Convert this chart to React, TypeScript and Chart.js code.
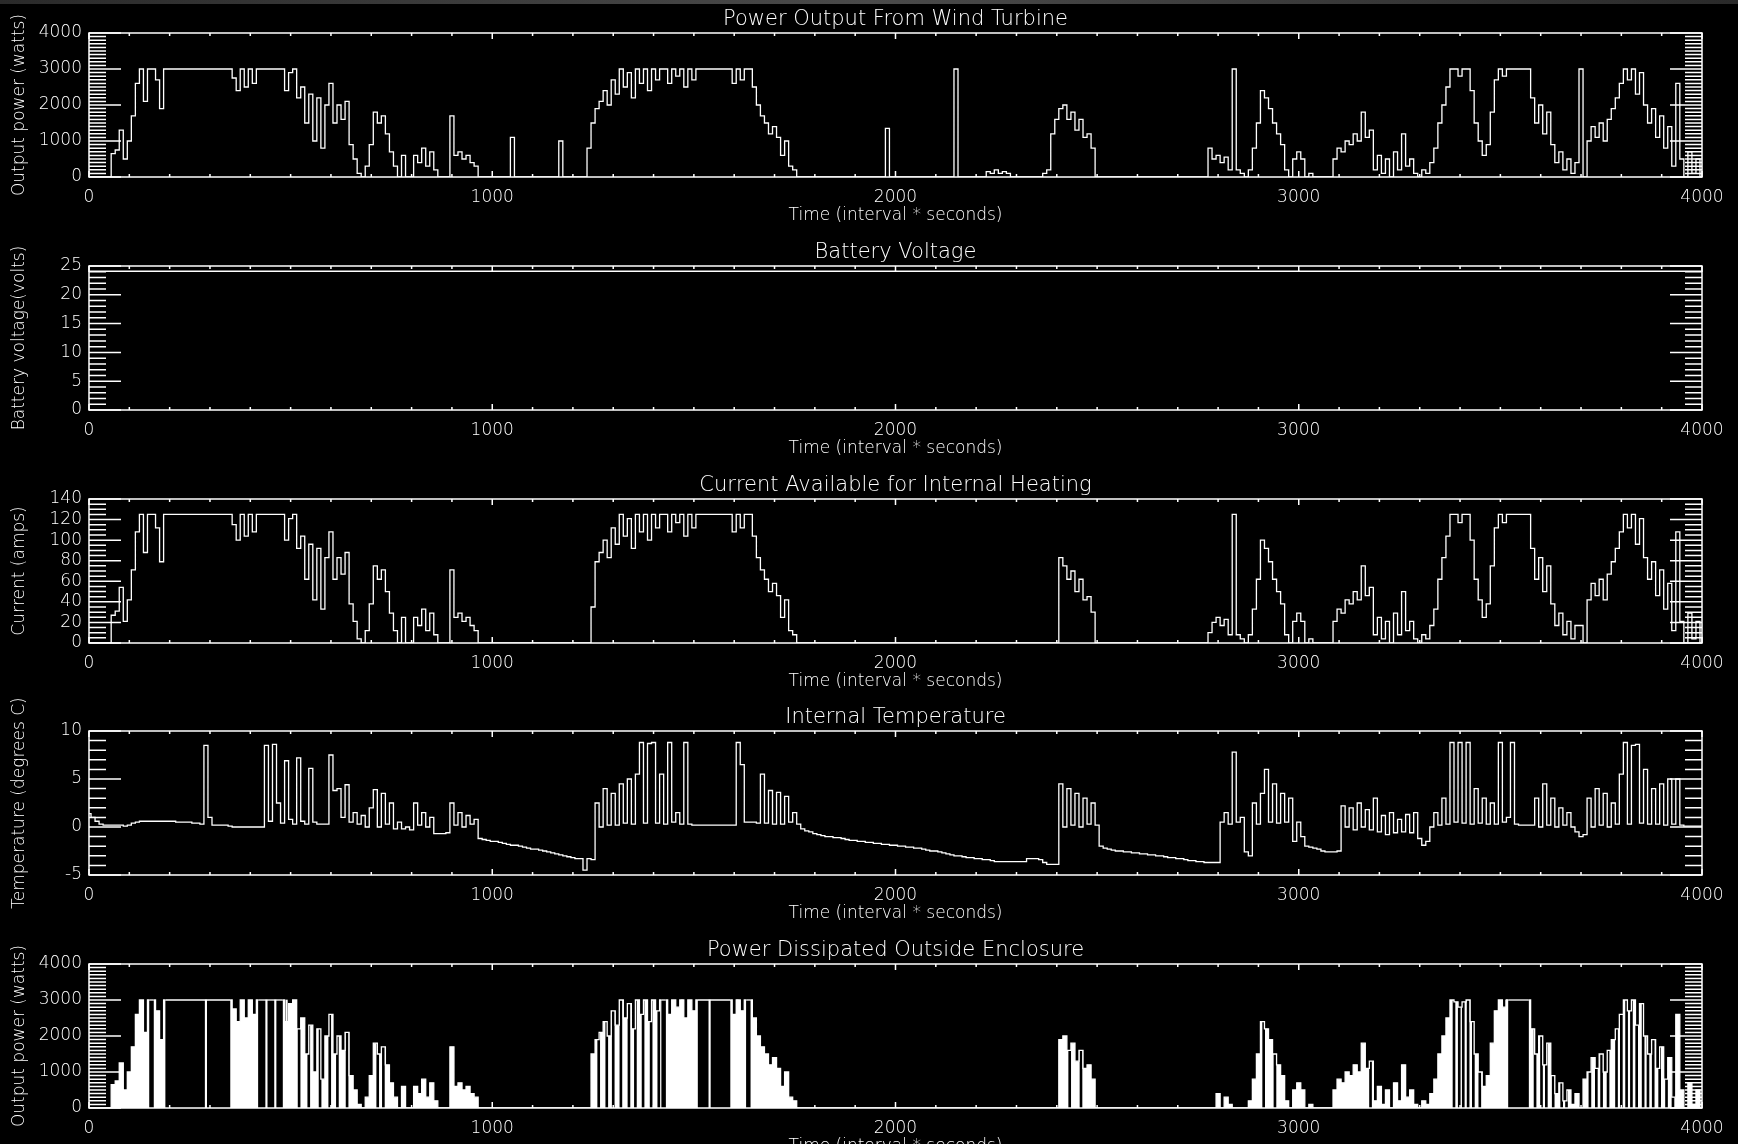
import React, { useEffect, useRef } from 'react';
import { Chart, registerables } from 'chart.js';

Chart.register(...registerables);

const FG = '#ffffff';
const FONT = '"DejaVu Sans", "Liberation Sans", sans-serif';
Chart.defaults.font.family = FONT;

// sampling grid (seconds), one reading every 10 s
const TIME_STEP = 10;
const TIME: number[] = Array.from({ length: 401 }, (_, i) => i * TIME_STEP);

// Panel 1: power output from wind turbine (watts)
const POWER_OUT: number[] = [
  0, 0, 0, 0, 0, 0, 650, 750, 1300, 500,
  1000, 1700, 2600, 3000, 2100, 3000, 3000, 2700, 1900, 3000,
  3000, 3000, 3000, 3000, 3000, 3000, 3000, 3000, 3000, 3000,
  3000, 3000, 3000, 3000, 3000, 3000, 2750, 2400, 3000, 2500,
  3000, 2600, 3000, 3000, 3000, 3000, 3000, 3000, 3000, 2400,
  2900, 3000, 2200, 2500, 1500, 2300, 1000, 2200, 800, 2000,
  2600, 1500, 2000, 1600, 2100, 900, 500, 100, 0, 300,
  900, 1800, 1500, 1700, 1200, 700, 300, 0, 600, 0,
  0, 600, 400, 800, 300, 700, 200, 0, 0, 0,
  1700, 600, 700, 500, 600, 400, 300, 0, 0, 0,
  0, 0, 0, 0, 0, 1100, 0, 0, 0, 0,
  0, 0, 0, 0, 0, 0, 0, 1000, 0, 0,
  0, 0, 0, 0, 800, 1500, 1900, 2100, 2400, 2000,
  2700, 2300, 3000, 2500, 2900, 2200, 3000, 2600, 3000, 2400,
  3000, 2700, 3000, 3000, 2600, 3000, 2800, 3000, 2500, 3000,
  2700, 3000, 3000, 3000, 3000, 3000, 3000, 3000, 3000, 3000,
  2600, 3000, 2700, 3000, 3000, 2500, 2000, 1700, 1500, 1200,
  1400, 1100, 600, 1000, 300, 200, 0, 0, 0, 0,
  0, 0, 0, 0, 0, 0, 0, 0, 0, 0,
  0, 0, 0, 0, 0, 0, 0, 0, 1350, 0,
  0, 0, 0, 0, 0, 0, 0, 0, 0, 0,
  0, 0, 0, 0, 0, 3000, 0, 0, 0, 0,
  0, 0, 0, 150, 100, 200, 100, 150, 100, 0,
  0, 0, 0, 0, 0, 0, 0, 100, 200, 1200,
  1600, 1900, 2000, 1600, 1800, 1300, 1600, 1100, 1200, 800,
  0, 0, 0, 0, 0, 0, 0, 0, 0, 0,
  0, 0, 0, 0, 0, 0, 0, 0, 0, 0,
  0, 0, 0, 0, 0, 0, 0, 0, 800, 500,
  600, 400, 550, 200, 3000, 200, 100, 0, 200, 800,
  1500, 2400, 2200, 1900, 1500, 1200, 900, 200, 0, 500,
  700, 500, 0, 100, 0, 0, 0, 0, 0, 500,
  800, 700, 1000, 900, 1200, 1000, 1800, 1100, 1300, 200,
  600, 100, 500, 0, 700, 200, 1200, 300, 500, 100,
  0, 200, 100, 400, 800, 1500, 2000, 2500, 3000, 3000,
  2800, 3000, 3000, 2400, 1500, 1000, 600, 900, 1800, 2700,
  3000, 2800, 3000, 3000, 3000, 3000, 3000, 3000, 2200, 1500,
  2000, 1200, 1800, 900, 400, 700, 200, 500, 100, 400,
  3000, 0, 1000, 1400, 1100, 1500, 1000, 1600, 1900, 2200,
  2600, 3000, 2700, 3000, 2300, 2900, 2000, 1500, 1900, 1100,
  1700, 800, 1400, 300, 2600, 500, 0, 700, 100, 500,
  0,
];

// Panel 2: battery voltage (volts)
const BATTERY_TIME: number[] = [0, 1000, 2000, 3000, 4000];
const BATTERY_VOLT: number[] = [24.1, 24.1, 24.1, 24.1, 24.1];

// Panel 3: current available for internal heating (amps)
const CURRENT: number[] = [
  0, 0, 0, 0, 0, 0, 27, 31, 54, 21,
  42, 71, 108, 125, 88, 125, 125, 112, 79, 125,
  125, 125, 125, 125, 125, 125, 125, 125, 125, 125,
  125, 125, 125, 125, 125, 125, 115, 100, 125, 104,
  125, 108, 125, 125, 125, 125, 125, 125, 125, 100,
  121, 125, 92, 104, 62, 96, 42, 92, 33, 83,
  108, 62, 83, 67, 88, 38, 21, 4, 0, 12,
  38, 75, 62, 71, 50, 29, 12, 0, 25, 0,
  0, 25, 17, 33, 12, 29, 8, 0, 0, 0,
  71, 25, 29, 21, 25, 17, 12, 0, 0, 0,
  0, 0, 0, 0, 0, 0, 0, 0, 0, 0,
  0, 0, 0, 0, 0, 0, 0, 0, 0, 0,
  0, 0, 0, 0, 0, 35, 79, 88, 100, 83,
  112, 96, 125, 104, 121, 92, 125, 108, 125, 100,
  125, 112, 125, 125, 108, 125, 117, 125, 104, 125,
  112, 125, 125, 125, 125, 125, 125, 125, 125, 125,
  108, 125, 112, 125, 125, 104, 83, 71, 62, 50,
  58, 46, 25, 42, 12, 8, 0, 0, 0, 0,
  0, 0, 0, 0, 0, 0, 0, 0, 0, 0,
  0, 0, 0, 0, 0, 0, 0, 0, 0, 0,
  0, 0, 0, 0, 0, 0, 0, 0, 0, 0,
  0, 0, 0, 0, 0, 0, 0, 0, 0, 0,
  0, 0, 0, 0, 0, 0, 0, 0, 0, 0,
  0, 0, 0, 0, 0, 0, 0, 0, 0, 0,
  0, 83, 75, 62, 70, 50, 62, 42, 45, 30,
  0, 0, 0, 0, 0, 0, 0, 0, 0, 0,
  0, 0, 0, 0, 0, 0, 0, 0, 0, 0,
  0, 0, 0, 0, 0, 0, 0, 0, 10, 20,
  25, 17, 23, 8, 125, 8, 4, 0, 8, 33,
  62, 100, 92, 79, 62, 50, 38, 8, 0, 21,
  29, 21, 0, 4, 0, 0, 0, 0, 0, 21,
  33, 29, 42, 38, 50, 42, 75, 46, 54, 8,
  25, 4, 21, 0, 29, 8, 50, 12, 21, 4,
  0, 8, 4, 17, 33, 62, 83, 104, 125, 125,
  117, 125, 125, 100, 62, 42, 25, 38, 75, 112,
  125, 117, 125, 125, 125, 125, 125, 125, 92, 62,
  83, 50, 75, 38, 17, 29, 8, 21, 4, 17,
  17, 0, 42, 58, 46, 62, 42, 67, 79, 92,
  108, 125, 112, 125, 96, 121, 83, 62, 79, 46,
  71, 33, 58, 12, 108, 21, 0, 29, 4, 21,
  0,
];

// Panel 4: internal temperature (degrees C)
const TEMPERATURE: number[] = [
  1.4, 1.0, 0.6, 0.3, 0.2, 0.2, 0.2, 0.2, 0.2, 0.1,
  0.2, 0.4, 0.5, 0.6, 0.6, 0.6, 0.6, 0.6, 0.6, 0.6,
  0.6, 0.6, 0.5, 0.5, 0.5, 0.5, 0.4, 0.4, 0.3, 8.5,
  1.0, 0.2, 0.2, 0.2, 0.2, 0.1, 0.0, 0.0, 0.0, 0.0,
  0.0, 0.0, 0.0, 0.0, 8.5, 0.6, 8.6, 2.5, 0.4, 6.9,
  0.8, 0.3, 7.2, 0.6, 0.3, 6.1, 0.5, 0.3, 0.3, 0.3,
  7.5, 3.8, 4.0, 1.0, 4.4, 0.5, 1.5, 0.3, 1.2, 0.0,
  2.0, 3.9, 0.0, 3.5, 0.3, 2.5, -0.2, 0.5, -0.2, 0.0,
  -0.3, 2.5, 0.2, 1.5, 0.0, 1.0, -0.7, -0.7, -0.7, -0.6,
  2.5, 0.2, 1.5, 0.0, 1.2, 0.3, 0.8, -1.2, -1.3, -1.4,
  -1.5, -1.5, -1.6, -1.7, -1.8, -1.9, -1.9, -2.0, -2.1, -2.2,
  -2.3, -2.3, -2.4, -2.5, -2.6, -2.7, -2.8, -2.9, -3.0, -3.1,
  -3.2, -3.3, -3.3, -4.5, -3.3, -3.4, 2.5, 0.0, 4.0, 0.2,
  3.5, 0.2, 4.5, 0.4, 5.0, 0.3, 5.5, 8.8, 0.4, 8.7,
  8.8, 0.4, 5.5, 0.3, 8.8, 0.5, 1.5, 0.3, 8.8, 0.3,
  0.2, 0.2, 0.2, 0.2, 0.2, 0.2, 0.2, 0.2, 0.2, 0.2,
  0.2, 8.8, 6.5, 0.5, 0.5, 0.5, 0.4, 5.5, 0.4, 3.8,
  0.3, 3.6, 0.3, 3.2, 0.5, 1.5, 0.3, -0.2, -0.4, -0.5,
  -0.7, -0.8, -0.9, -1.0, -1.0, -1.1, -1.1, -1.2, -1.3, -1.4,
  -1.4, -1.5, -1.5, -1.6, -1.6, -1.7, -1.7, -1.8, -1.8, -1.9,
  -1.9, -2.0, -2.0, -2.1, -2.1, -2.2, -2.2, -2.3, -2.4, -2.5,
  -2.5, -2.6, -2.7, -2.8, -2.9, -3.0, -3.0, -3.1, -3.2, -3.2,
  -3.3, -3.3, -3.4, -3.4, -3.5, -3.6, -3.6, -3.6, -3.6, -3.6,
  -3.6, -3.6, -3.6, -3.3, -3.3, -3.3, -3.4, -3.7, -3.9, -3.9,
  -3.9, 4.5, 0.0, 4.0, 0.2, 3.5, 0.0, 3.0, 0.3, 2.5,
  0.2, -2.0, -2.2, -2.3, -2.4, -2.5, -2.5, -2.6, -2.6, -2.7,
  -2.7, -2.8, -2.8, -2.9, -2.9, -3.0, -3.0, -3.1, -3.2, -3.2,
  -3.3, -3.3, -3.4, -3.5, -3.5, -3.6, -3.6, -3.7, -3.7, -3.7,
  -3.7, 0.5, 1.5, 0.3, 7.8, 0.5, 1.0, -2.6, -3.0, 2.5,
  0.3, 3.5, 6.0, 0.5, 4.5, 0.4, 3.5, 0.5, 3.0, -1.5,
  0.5, -1.0, -2.0, -2.1, -2.2, -2.3, -2.5, -2.6, -2.6, -2.6,
  -2.5, 2.2, 0.0, 2.0, -0.3, 2.5, 0.0, 1.8, -0.3, 3.0,
  -0.5, 1.2, -0.8, 1.5, -0.6, 0.8, -0.5, 1.3, -0.6, 1.5,
  -1.2, -1.9, -1.5, 0.0, 1.5, 0.2, 3.0, 0.3, 8.8, 0.5,
  8.8, 0.4, 8.8, 0.3, 4.0, 0.4, 3.0, 0.3, 2.5, 0.3,
  8.8, 0.5, 1.0, 8.8, 0.3, 0.2, 0.2, 0.2, 0.2, 3.0,
  0.0, 4.5, 0.2, 3.0, 0.0, 2.0, 0.2, 1.5, 0.0, -0.5,
  -1.0, -0.8, 3.0, 0.0, 4.0, 0.2, 3.5, 0.0, 2.5, 0.3,
  5.5, 8.8, 0.3, 8.5, 8.6, 0.4, 6.0, 0.3, 4.0, 0.3,
  4.5, 0.2, 5.0, 0.3, 5.0, 0.2, 0.1, 0.1, 0.1, 0.1,
  0.1,
];

// Panel 5: power dissipated outside enclosure (watts)
const POWER_DISS: number[] = [
  0, 0, 0, 0, 0, 0, 650, 750, 1250, 500,
  1000, 1700, 2600, 3000, 2100, 3000, 3000, 2700, 1900, 3000,
  3000, 3000, 3000, 3000, 3000, 3000, 3000, 3000, 3000, 3000,
  3000, 3000, 3000, 3000, 3000, 3000, 2750, 2400, 3000, 2500,
  3000, 2600, 3000, 3000, 3000, 3000, 3000, 3000, 3000, 2400,
  2900, 3000, 2200, 2500, 1500, 2300, 1000, 2200, 800, 2000,
  2600, 1500, 2000, 1600, 2100, 900, 500, 100, 0, 300,
  900, 1800, 1500, 1700, 1200, 700, 300, 0, 600, 0,
  0, 600, 400, 800, 300, 700, 200, 0, 0, 0,
  1700, 600, 700, 500, 600, 400, 300, 0, 0, 0,
  0, 0, 0, 0, 0, 0, 0, 0, 0, 0,
  0, 0, 0, 0, 0, 0, 0, 0, 0, 0,
  0, 0, 0, 0, 0, 1500, 1900, 2100, 2400, 2000,
  2700, 2300, 3000, 2500, 2900, 2200, 3000, 2600, 3000, 2400,
  3000, 2700, 3000, 3000, 2600, 3000, 2800, 3000, 2500, 3000,
  2700, 3000, 3000, 3000, 3000, 3000, 3000, 3000, 3000, 3000,
  2600, 3000, 2700, 3000, 3000, 2500, 2000, 1700, 1500, 1200,
  1400, 1100, 600, 1000, 300, 200, 0, 0, 0, 0,
  0, 0, 0, 0, 0, 0, 0, 0, 0, 0,
  0, 0, 0, 0, 0, 0, 0, 0, 0, 0,
  0, 0, 0, 0, 0, 0, 0, 0, 0, 0,
  0, 0, 0, 0, 0, 0, 0, 0, 0, 0,
  0, 0, 0, 0, 0, 0, 0, 0, 0, 0,
  0, 0, 0, 0, 0, 0, 0, 0, 0, 0,
  0, 1900, 2000, 1600, 1800, 1300, 1600, 1100, 1200, 800,
  0, 0, 0, 0, 0, 0, 0, 0, 0, 0,
  0, 0, 0, 0, 0, 0, 0, 0, 0, 0,
  0, 0, 0, 0, 0, 0, 0, 0, 0, 0,
  400, 0, 300, 100, 0, 0, 0, 0, 200, 800,
  1500, 2400, 2200, 1900, 1500, 1200, 900, 200, 0, 500,
  700, 500, 0, 100, 0, 0, 0, 0, 0, 500,
  800, 700, 1000, 900, 1200, 1000, 1800, 1100, 1300, 200,
  600, 100, 500, 0, 700, 200, 1200, 300, 500, 100,
  0, 200, 100, 400, 800, 1500, 2000, 2500, 3000, 2950,
  2800, 2950, 3000, 2400, 1500, 1000, 600, 900, 1800, 2700,
  3000, 2800, 3000, 3000, 3000, 3000, 3000, 3000, 2200, 1500,
  2000, 1200, 1800, 900, 400, 700, 200, 500, 100, 400,
  0, 800, 1000, 1400, 1100, 1500, 1000, 1600, 1900, 2200,
  2600, 3000, 2700, 3000, 2300, 2900, 2000, 1500, 1900, 1100,
  1700, 800, 1400, 300, 2600, 500, 0, 700, 100, 500,
  0,
];
// instants when the dissipated power dropped to zero inside a full-power stretch
const DISS_DROP_TIMES: number[] = [290, 440, 462, 490, 1471, 1539, 1608, 3515];
const DISS_DROP_LEVEL = 3000;
// instants with zero dissipation inside the busy stretches
const DISS_GAP_TIMES: number[] = [
  521, 545, 573, 597, 616, 640, 716, 730,
  1264, 1284, 1300, 1319, 1339, 1355, 1374, 1394, 1413,
  2432, 2460, 2913, 2941, 3178,
  3385, 3398, 3408, 3420, 3433, 3449,
  3586, 3602, 3614, 3631, 3652, 3664,
  3722, 3738, 3751, 3767, 3788, 3800, 3813, 3825, 3838, 3854, 3866, 3879, 3895, 3912, 3928,
];
const DISS_GAP_LEVEL = 3000;

const PANEL_TITLES = [
  'Power Output From Wind Turbine',
  'Battery Voltage',
  'Current Available for Internal Heating',
  'Internal Temperature',
  'Power Dissipated Outside Enclosure',
];
const Y_TITLES = [
  'Output power (watts)',
  'Battery voltage(volts)',
  'Current (amps)',
  'Temperature (degrees C)',
  'Output power (watts)',
];
const X_TITLE = 'Time (interval * seconds)';
const X_RANGE = [0, 4000];
const X_MAJOR = 1000;
const X_MINOR = 100;
const Y_RANGES = [[0, 4000], [0, 25], [0, 140], [-5, 10], [0, 4000]];
const Y_MAJOR = [1000, 5, 20, 5, 1000];
const Y_MINOR = [100, 1, 5, 1, 100];

const PANEL_TOPS = [0, 233, 466, 698, 931];
const CANVAS_W = 1738;
const CANVAS_H = 233;

// IDL-style frame: closed box with inward major/minor ticks on all four sides
const idlFrame = {
  id: 'idlFrame',
  afterDraw(chart: any, _args: any, opts: any) {
    const { ctx, chartArea: a, scales } = chart;
    const xs = scales.x;
    const ys = scales.y;
    ctx.save();
    ctx.strokeStyle = FG;
    ctx.lineWidth = 1.5;
    ctx.beginPath();
    const isMajor = (v: number, m: number) => Math.abs(v / m - Math.round(v / m)) < 1e-6;
    const nx = Math.round((xs.max - xs.min) / opts.xMinor);
    for (let k = 0; k <= nx; k++) {
      const v = xs.min + k * opts.xMinor;
      const px = xs.getPixelForValue(v);
      const len = isMajor(v, opts.xMajor) ? 6 : 3;
      ctx.moveTo(px, a.bottom);
      ctx.lineTo(px, a.bottom - len);
      ctx.moveTo(px, a.top);
      ctx.lineTo(px, a.top + len);
    }
    const ny = Math.round((ys.max - ys.min) / opts.yMinor);
    for (let k = 0; k <= ny; k++) {
      const v = ys.min + k * opts.yMinor;
      const py = ys.getPixelForValue(v);
      const len = isMajor(v, opts.yMajor) ? 32 : 17;
      ctx.moveTo(a.left, py);
      ctx.lineTo(a.left + len, py);
      ctx.moveTo(a.right, py);
      ctx.lineTo(a.right - len, py);
    }
    ctx.stroke();
    ctx.strokeRect(a.left, a.top, a.right - a.left, a.bottom - a.top);
    ctx.restore();
  },
};

const lineDs = (data: any[], extra: any = {}) => ({
  type: 'line',
  data,
  borderColor: FG,
  borderWidth: 1.3,
  pointRadius: 0,
  tension: 0,
  stepped: 'middle',
  fill: false,
  ...extra,
});

function buildConfig(i: number): any {
  const [ymin, ymax] = Y_RANGES[i];
  let labels: number[] = TIME;
  let datasets: any[] = [];
  if (i === 0) datasets = [lineDs(POWER_OUT)];
  if (i === 1) {
    labels = BATTERY_TIME;
    datasets = [
      lineDs(BATTERY_VOLT, {
        stepped: false,
        borderWidth: 1.6,
        spanGaps: true,
        showLine: true,
        pointRadius: 0.8,
        pointBorderWidth: 0,
        pointBackgroundColor: FG,
        pointBorderColor: FG,
      }),
    ];
  }
  if (i === 2) datasets = [lineDs(CURRENT)];
  if (i === 3) datasets = [lineDs(TEMPERATURE)];
  if (i === 4) {
    datasets = [
      lineDs(POWER_DISS, {
        fill: 'origin',
        backgroundColor: FG,
        segment: {
          backgroundColor: (c: any) =>
            c.p0.parsed.y >= 3000 && c.p1.parsed.y >= 3000 ? 'rgba(0,0,0,0)' : undefined,
        },
      }),
      {
        type: 'bar',
        data: DISS_DROP_TIMES.map((t) => ({ x: t, y: DISS_DROP_LEVEL })),
        backgroundColor: FG,
        borderWidth: 0,
        barThickness: 1.5,
        grouped: false,
      },
      {
        type: 'bar',
        data: DISS_GAP_TIMES.map((t) => ({ x: t, y: DISS_GAP_LEVEL })),
        backgroundColor: '#000000',
        borderWidth: 0,
        barThickness: 2,
        grouped: false,
      },
    ];
  }
  const tickFont = { size: 17, lineHeight: 1, family: FONT, weight: 300 };
  return {
    type: 'line',
    data: { labels, datasets },
    options: {
      responsive: false,
      animation: false,
      events: [],
      layout: { padding: { left: 0, right: 36, top: 0, bottom: 0 } },
      plugins: {
        legend: { display: false },
        tooltip: { enabled: false },
        title: {
          display: true,
          fullSize: false,
          text: PANEL_TITLES[i],
          color: FG,
          font: { size: 21, lineHeight: 1, weight: 300, family: FONT },
          padding: { top: 9, bottom: 3 },
        },
        filler: { drawTime: 'beforeDatasetsDraw', propagate: false },
        idlFrame: { xMinor: X_MINOR, xMajor: X_MAJOR, yMinor: Y_MINOR[i], yMajor: Y_MAJOR[i] },
      },
      scales: {
        x: {
          type: 'linear',
          min: X_RANGE[0],
          max: X_RANGE[1],
          offset: false,
          grid: { display: false, drawTicks: false },
          border: { display: false },
          ticks: {
            stepSize: X_MAJOR,
            color: FG,
            font: tickFont,
            padding: 12.5,
            maxRotation: 0,
            autoSkip: false,
            callback: (v: any) => String(v),
          },
          title: {
            display: true,
            text: X_TITLE,
            color: FG,
            font: tickFont,
            padding: { top: 0, bottom: 8.5 },
          },
          afterFit: (s: any) => {
            s.height = 56;
          },
        },
        y: {
          type: 'linear',
          min: ymin,
          max: ymax,
          grid: { display: false, drawTicks: false },
          border: { display: false },
          ticks: {
            stepSize: Y_MAJOR[i],
            color: FG,
            font: tickFont,
            padding: 7,
            callback: (v: any) => String(v),
          },
          title: {
            display: true,
            text: Y_TITLES[i],
            color: FG,
            font: tickFont,
            padding: { top: 11.5, bottom: 0 },
          },
          afterFit: (s: any) => {
            s.width = 89;
          },
        },
      },
    },
    plugins: [idlFrame],
  };
}

function Panel({ index }: { index: number }) {
  const ref = useRef<HTMLCanvasElement | null>(null);
  useEffect(() => {
    if (!ref.current) return;
    const chart = new Chart(ref.current, buildConfig(index));
    return () => chart.destroy();
  }, [index]);
  return (
    <canvas
      ref={ref}
      width={CANVAS_W}
      height={CANVAS_H}
      style={{ position: 'absolute', left: 0, top: PANEL_TOPS[index], display: 'block' }}
    />
  );
}

export default function App() {
  return (
    <div
      style={{
        position: 'fixed',
        left: 0,
        top: 0,
        width: 1738,
        height: 1144,
        background: '#000',
        overflow: 'hidden',
      }}
    >
      {PANEL_TITLES.map((_, i) => (
        <Panel key={i} index={i} />
      ))}
      <div
        style={{
          position: 'absolute',
          left: 0,
          top: 0,
          width: '100%',
          height: 4,
          background: 'linear-gradient(to right, #2a2a2a, #4a4a4a 50%, #2a2a2a)',
        }}
      />
    </div>
  );
}
